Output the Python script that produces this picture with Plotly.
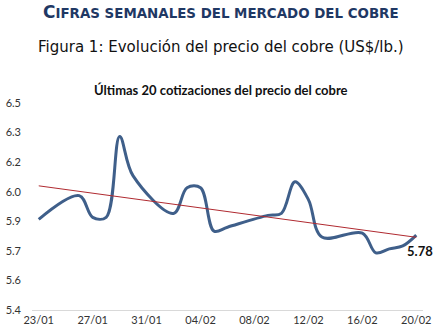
import numpy as np
import pandas as pd
import plotly.graph_objects as go

# ---- data ----
dates = ['2026-01-23', '2026-01-26', '2026-01-27', '2026-01-28', '2026-01-29', '2026-01-30',
         '2026-02-02', '2026-02-03', '2026-02-04', '2026-02-05', '2026-02-06',
         '2026-02-09', '2026-02-10', '2026-02-11', '2026-02-12', '2026-02-13',
         '2026-02-16', '2026-02-17', '2026-02-18', '2026-02-19', '2026-02-20']
prices = [5.86, 5.98, 5.87, 5.87, 6.28, 6.08,
          5.89, 6.02, 6.02, 5.80, 5.82,
          5.88, 5.89, 6.05, 5.96, 5.77,
          5.79, 5.69, 5.71, 5.725, 5.78]
y_ticks = [5.4, 5.55, 5.7, 5.85, 6.0, 6.15, 6.3, 6.45]
y_ticktext = ["5.4", "5.6", "5.7", "5.9", "6.0", "6.2", "6.3", "6.5"]

header_first = "C"
header_rest = "IFRAS SEMANALES DEL MERCADO DEL COBRE"
fig_title = "Figura 1: Evolución del precio del cobre (US$/lb.)"
chart_title = "Últimas 20 cotizaciones del precio del cobre"

# ---- trend line (linear regression over days) ----
dt = pd.to_datetime(dates)
days = np.array([(d - dt[0]).days for d in dt], dtype=float)
slope, intercept = np.polyfit(days, np.array(prices), 1)
trend_x = [dt[0], dt[-1]]
trend_y = [intercept + slope * days[0], intercept + slope * days[-1]]

fig = go.Figure()
fig.add_trace(go.Scatter(
    x=dt, y=prices, mode="lines",
    line=dict(color="#3F5F8A", width=3, shape="spline", smoothing=1.0),
    hoverinfo="skip", showlegend=False))
fig.add_trace(go.Scatter(
    x=trend_x, y=trend_y, mode="lines",
    line=dict(color="#B02A30", width=1),
    hoverinfo="skip", showlegend=False))

L, R, T, B = 32, 16, 103, 20
W, H = 439, 330
pw, ph = W - L - R, H - T - B

def px(x):
    return (x - L) / pw

def py(y):
    return (H - B - y) / ph

fig.add_annotation(
    x=px(221), y=py(12), xref="paper", yref="paper", xanchor="center", yanchor="middle",
    showarrow=False,
    text=f"<b>{header_first}<span style='font-size:13.4px'>{header_rest}</span></b>",
    font=dict(family="DejaVu Sans", size=17, color="#1F3864"))
fig.add_annotation(
    x=px(221), y=py(47), xref="paper", yref="paper", xanchor="center", yanchor="middle",
    showarrow=False, text=fig_title,
    font=dict(family="DejaVu Sans", size=15, color="#111111"))
fig.add_annotation(
    x=px(221), y=py(90), xref="paper", yref="paper", xanchor="center", yanchor="middle",
    showarrow=False, text=f"<b>{chart_title}</b>",
    font=dict(family="Lato", size=13, color="#111111"))
fig.add_annotation(
    x=dt[-1], y=prices[-1], xref="x", yref="y", xanchor="center", yanchor="middle",
    xshift=4, yshift=-16, showarrow=False, text=f"<b>{prices[-1]:.2f}</b>",
    font=dict(family="Lato", size=13, color="#111111"))

fig.update_layout(
    width=W, height=H,
    margin=dict(l=L, r=R, t=T, b=B, pad=0),
    paper_bgcolor="white", plot_bgcolor="white",
    xaxis=dict(
        type="date", automargin=False,
        range=["2026-01-22 12:00", "2026-02-20 12:00"],
        tick0="2026-01-23", dtick=4 * 86400000, tickformat="%d/%m",
        showgrid=False, zeroline=False,
        showline=True, linecolor="#D9D9D9", linewidth=1,
        ticks="", tickfont=dict(family="Lato", size=11, color="#333333"),
        fixedrange=True),
    yaxis=dict(
        range=[5.4, 6.45], tickvals=y_ticks, ticktext=y_ticktext,
        automargin=False,
        showgrid=False, zeroline=False, showline=False,
        ticks="", ticklabelstandoff=10,
        tickfont=dict(family="Lato", size=11, color="#333333"),
        fixedrange=True),
)

fig.write_html("out.html")
